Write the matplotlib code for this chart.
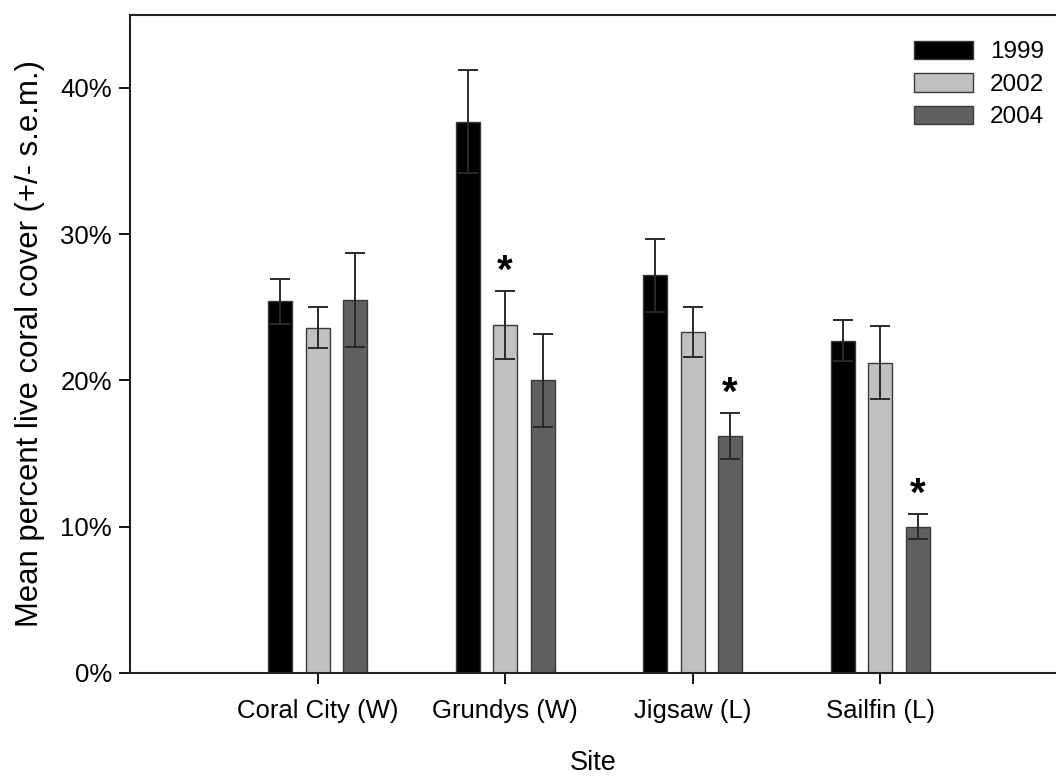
import numpy as np
import matplotlib.pyplot as plt
from matplotlib.ticker import PercentFormatter

plt.rcParams['font.family'] = ['Liberation Sans', 'DejaVu Sans']

sites = ['Coral City (W)', 'Grundys (W)', 'Jigsaw (L)', 'Sailfin (L)']
years = ['1999', '2002', '2004']

# mean percent live coral cover, one list per year (sites in order above)
cover_1999 = [25.4, 37.7, 27.2, 22.7]
cover_2002 = [23.6, 23.8, 23.3, 21.2]
cover_2004 = [25.5, 20.0, 16.2, 10.0]

# standard error of the mean
sem_1999 = [1.55, 3.5, 2.5, 1.4]
sem_2002 = [1.4, 2.3, 1.7, 2.5]
sem_2004 = [3.2, 3.2, 1.55, 0.85]

# significant changes marked with an asterisk: (site index, year index)
significant = [(1, 1), (2, 2), (3, 2)]

means = [cover_1999, cover_2002, cover_2004]
sems = [sem_1999, sem_2002, sem_2004]
colors = ['#000000', '#c0c0c0', '#606060']

fig = plt.figure(figsize=(10.56, 7.78), dpi=100)
ax = fig.add_axes([0.1231, 0.135, 0.877, 0.846])

x = np.arange(1, len(sites) + 1)
offsets = [-0.2, 0.0, 0.2]
width = 0.128

for i in range(3):
    ax.bar(x + offsets[i], means[i], width, color=colors[i],
           edgecolor='#3a3a3a', linewidth=1.0, label=years[i], zorder=2)
    ax.errorbar(x + offsets[i], means[i], yerr=sems[i], fmt='none',
                ecolor='#2a2a2a', elinewidth=1.4, capsize=7.5, capthick=1.4,
                zorder=3)

for si, yi in significant:
    top = means[yi][si] + sems[yi][si]
    ax.annotate('*', xy=(x[si] + offsets[yi], top), xytext=(0, 6),
                textcoords='offset points', ha='center', va='baseline',
                fontsize=29, fontweight='bold')

ax.set_xlim(0, 4.939)
ax.set_ylim(0, 45)
ax.set_xticks(x)
ax.set_xticklabels(sites)
ax.set_yticks([0, 10, 20, 30, 40])
ax.yaxis.set_major_formatter(PercentFormatter(decimals=0))
ax.tick_params(axis='both', direction='out', length=8, width=1.3,
               labelsize=18.5, pad=5)
ax.tick_params(axis='x', pad=11)

for side in ['left', 'bottom', 'top']:
    ax.spines[side].set_linewidth(1.5)
    ax.spines[side].set_color('#222222')
ax.spines['right'].set_visible(False)

ax.set_xlabel('Site', fontsize=19.5, labelpad=19)
ax.set_ylabel('Mean percent live coral cover (+/- s.e.m.)', fontsize=22.4,
              labelpad=11)

ax.legend(loc='upper right', bbox_to_anchor=(1.011, 0.994), frameon=False,
          fontsize=17.5, handlelength=2.45, handleheight=0.8,
          labelspacing=0.4, handletextpad=0.7)

fig.savefig('out.png', dpi=100)
